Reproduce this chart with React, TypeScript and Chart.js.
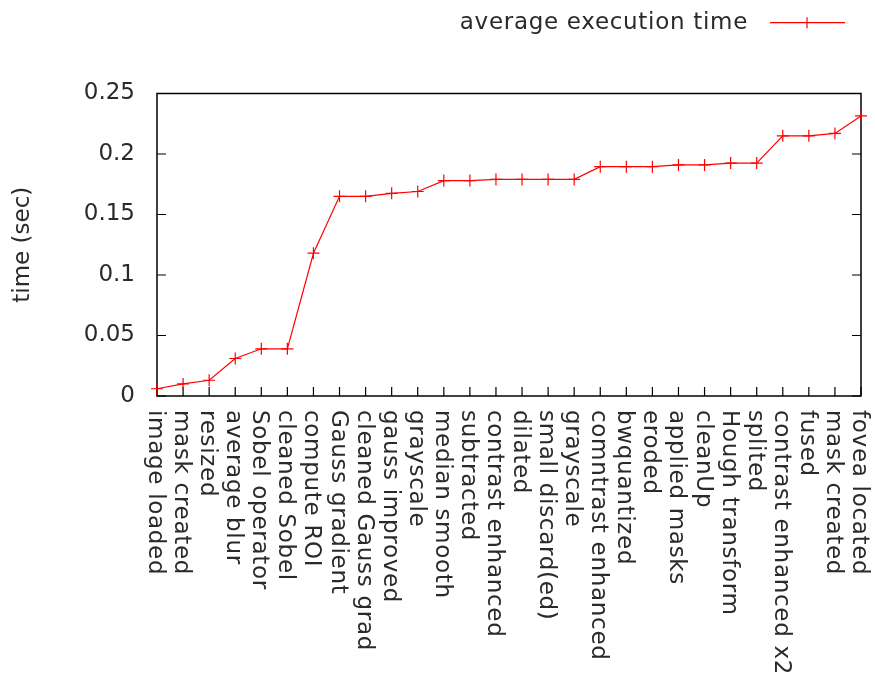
import { useEffect, useRef } from 'react';
import { Chart, registerables } from 'chart.js';

Chart.register(...registerables);

const categories: string[] = [
  'image loaded',
  'mask created',
  'resized',
  'average blur',
  'Sobel operator',
  'cleaned Sobel',
  'compute ROI',
  'Gauss gradient',
  'cleaned Gauss grad',
  'gauss improved',
  'grayscale',
  'median smooth',
  'subtracted',
  'contrast enhanced',
  'dilated',
  'small discard(ed)',
  'grayscale',
  'comntrast enhanced',
  'bwquantized',
  'eroded',
  'applied masks',
  'cleanUp',
  'Hough transform',
  'splited',
  'contrast enhanced x2',
  'fused',
  'mask created',
  'fovea located',
];

const averageTimes: number[] = [
  0.006, 0.010, 0.013, 0.031, 0.039, 0.039, 0.118, 0.165, 0.165, 0.1675,
  0.169, 0.178, 0.178, 0.179, 0.179, 0.179, 0.179, 0.1895, 0.1895, 0.1895,
  0.191, 0.191, 0.1925, 0.1925, 0.215, 0.215, 0.217, 0.2315,
];

const yTickValues: number[] = [0, 0.05, 0.1, 0.15, 0.2, 0.25];

const seriesLabel = 'average execution time';
const yTitle = 'time (sec)';

const FONT = '"DejaVu Sans", sans-serif';
const FS = 23;
const TXT = '#2a2a2a';
const RED = '#ff0000';

const framePlugin = {
  id: 'gnuFrame',
  beforeDatasetsDraw(chart: any) {
    const { ctx, chartArea } = chart;
    const { left, right, top, bottom } = chartArea;
    const xs = chart.scales.x;
    const ys = chart.scales.y;
    ctx.save();
    ctx.strokeStyle = '#000';
    ctx.lineWidth = 1.5;
    ctx.strokeRect(left, top, right - left, bottom - top);
    ctx.lineWidth = 1.2;
    const tl = 9;
    ctx.beginPath();
    yTickValues.forEach((v) => {
      const py = ys.getPixelForValue(v);
      ctx.moveTo(left, py);
      ctx.lineTo(left + tl, py);
      ctx.moveTo(right, py);
      ctx.lineTo(right - tl, py);
    });
    categories.forEach((_, i) => {
      const px = xs.getPixelForValue(i);
      ctx.moveTo(px, bottom);
      ctx.lineTo(px, bottom - tl);
    });
    ctx.stroke();
    ctx.restore();
  },
  afterDraw(chart: any) {
    const { ctx, chartArea } = chart;
    const { bottom } = chartArea;
    const xs = chart.scales.x;
    ctx.save();
    ctx.font = `${FS}px ${FONT}`;
    ctx.fillStyle = TXT;
    ctx.textAlign = 'left';
    ctx.textBaseline = 'alphabetic';
    try {
      (ctx as any).letterSpacing = '0.7px';
    } catch (e) {
      /* ignore */
    }
    categories.forEach((c, i) => {
      const px = xs.getPixelForValue(i);
      ctx.save();
      ctx.translate(px, bottom + 14);
      ctx.rotate(Math.PI / 2);
      ctx.fillText(c, 0, 8);
      ctx.restore();
    });
    // legend (text then sample)
    const ly = 22.7;
    ctx.textAlign = 'right';
    ctx.fillText(seriesLabel, 748, 28.5);
    (ctx as any).letterSpacing = '0px';
    ctx.strokeStyle = RED;
    ctx.lineWidth = 1.2;
    ctx.beginPath();
    ctx.moveTo(770, ly);
    ctx.lineTo(845, ly);
    ctx.moveTo(807 - 6, ly);
    ctx.lineTo(807 + 6, ly);
    ctx.moveTo(807, ly - 5.5);
    ctx.lineTo(807, ly + 5.5);
    ctx.stroke();
    ctx.restore();
  },
};

export default function App() {
  const canvasRef = useRef<HTMLCanvasElement | null>(null);

  useEffect(() => {
    const canvas = canvasRef.current;
    if (!canvas) return;
    const chart = new Chart(canvas, {
      type: 'line',
      data: {
        labels: categories,
        datasets: [
          {
            label: seriesLabel,
            data: averageTimes,
            borderColor: RED,
            backgroundColor: RED,
            borderWidth: 1.2,
            pointStyle: 'cross',
            pointRadius: 6,
            pointBorderWidth: 1.2,
            pointBorderColor: RED,
            pointHoverRadius: 6,
            tension: 0,
            fill: false,
            clip: false as any,
          },
        ],
      },
      options: {
        animation: false,
        responsive: false,
        devicePixelRatio: 1,
        events: [],
        layout: { padding: { top: 93.5, right: 14, left: 0, bottom: 0 } },
        plugins: {
          legend: { display: false },
          tooltip: { enabled: false },
        },
        scales: {
          x: {
            type: 'category',
            offset: false,
            grid: { display: false, drawTicks: false },
            border: { display: false },
            ticks: { display: false },
            afterFit: (scale: any) => {
              scale.height = 279;
            },
          },
          y: {
            min: 0,
            max: 0.25,
            grid: { display: false, drawTicks: false },
            border: { display: false },
            ticks: {
              stepSize: 0.05,
              padding: 22,
              color: TXT,
              font: { family: FONT, size: FS },
              callback: (v: any) => String(Number(Number(v).toFixed(2))),
            },
            title: {
              display: true,
              text: yTitle,
              color: TXT,
              font: { family: FONT, size: FS },
              padding: { top: 9.5, bottom: 0 },
            },
            afterFit: (scale: any) => {
              scale.width = 157;
            },
          },
        },
      },
      plugins: [framePlugin],
    });
    return () => chart.destroy();
  }, []);

  return (
    <div style={{ position: 'absolute', left: 0, top: 0, width: 875, height: 675, background: '#fff' }}>
      <canvas ref={canvasRef} width={875} height={675} style={{ display: 'block', width: 875, height: 675 }} />
    </div>
  );
}
